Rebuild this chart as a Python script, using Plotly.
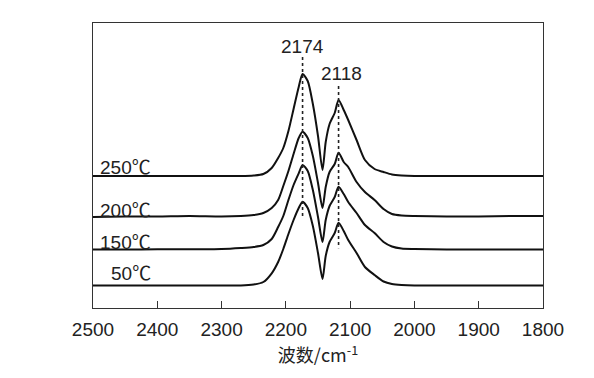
import plotly.graph_objects as go

# Wavenumber grid (cm^-1)
wavenumber = [2500, 2450, 2400, 2350, 2300, 2270, 2250, 2235, 2222, 2212, 2204, 2196,
              2188, 2180, 2174, 2166, 2158, 2150, 2143, 2138, 2132, 2124, 2118, 2110,
              2103, 2090, 2077, 2062, 2048, 2035, 2020, 2000, 1950, 1900, 1850, 1800]

# Stacked absorbance traces (arbitrary units, already offset)
t250 = [110, 110, 110, 110, 110, 110, 110.5, 112, 118, 128, 138, 155,
        177, 199, 212, 205, 182, 150, 116, 144, 162, 173, 186, 176,
        166, 146, 126, 117, 114, 111.5, 110.5, 110, 110, 110, 110, 110]
t200 = [69, 69.5, 69.5, 70, 69.5, 70, 71, 73, 78, 86, 100, 115,
        132, 148, 154.3, 148, 130, 103, 78, 99, 114, 122, 133.3, 124,
        119, 104, 94, 86, 77, 72, 70.5, 70, 69.5, 69.5, 70, 70]
t150 = [36.5, 36.5, 36.7, 36.7, 37, 38, 39, 41, 47, 59, 70, 86,
        101, 112.7, 121, 115, 96, 69, 44, 66, 80, 89, 99.3, 92,
        84, 73, 61, 53, 44, 39.5, 37.5, 37, 36.5, 36.5, 36.5, 36.5]
t50 = [0.5, 0.5, 0.5, 0.5, 0.5, 0.5, 1.5, 4, 12.7, 24, 37, 52,
       66, 78, 84.3, 78, 60, 33, 7, 30, 44, 53, 63.3, 55,
       46, 33, 19, 11, 4.5, 2, 1, 0.5, 0.5, 0.5, 0.5, 0.5]

temps = ["250", "200", "150", "50"]
series = [t250, t200, t150, t50]
label_y = [121, 78, 46, 14.3]

peak_positions = [2174, 2118]
peak_labels = ["2174", "2118"]

x_ticks = [2500, 2400, 2300, 2200, 2100, 2000, 1900, 1800]

fig = go.Figure()

for t, ys in zip(temps, series):
    fig.add_trace(go.Scatter(
        x=wavenumber, y=ys, mode="lines", name=t + "℃",
        line=dict(color="#111111", width=2, shape="spline", smoothing=0.7),
        hoverinfo="x+y+name", showlegend=False))

# dotted peak markers
fig.add_trace(go.Scatter(x=[peak_positions[0]] * 2, y=[229, 67.7], mode="lines",
                         line=dict(color="#222222", width=1.6, dash="dot"),
                         showlegend=False, hoverinfo="skip"))
fig.add_trace(go.Scatter(x=[peak_positions[1]] * 2, y=[200, 37.7], mode="lines",
                         line=dict(color="#222222", width=1.6, dash="dot"),
                         showlegend=False, hoverinfo="skip"))

font_main = "Liberation Sans, Arial, Noto Sans CJK SC, sans-serif"
FS = 19

annotations = [
    dict(x=2174, y=229, text=peak_labels[0], showarrow=False, yanchor="bottom",
         xanchor="center", yshift=-2, font=dict(size=FS, color="#222222", family=font_main)),
    dict(x=2114, y=200, text=peak_labels[1], showarrow=False, yanchor="bottom",
         xanchor="center", yshift=0, font=dict(size=FS, color="#222222", family=font_main)),
]
for t, ly in zip(temps, label_y):
    annotations.append(dict(
        x=2407, y=ly,
        text=t + "<span style='font-family:Noto Sans CJK SC'>℃</span>",
        showarrow=False, xanchor="right", yanchor="middle",
        font=dict(size=FS, color="#222222", family=font_main)))

fig.update_layout(
    width=586, height=370,
    margin=dict(l=85, r=51, t=15, b=70),
    paper_bgcolor="white", plot_bgcolor="white",
    font=dict(family=font_main, color="#222222"),
    annotations=annotations,
    xaxis=dict(range=[2500, 1800], tickvals=x_ticks, ticks="inside", ticklen=7,
               tickcolor="#333333", tickwidth=1, showgrid=False, zeroline=False,
               showline=True, linecolor="#333333", linewidth=1, mirror=True,
               ticklabelstandoff=4,
               tickfont=dict(size=FS, color="#222222", family=font_main),
               title=dict(text="波数/cm<sup>-1</sup>", standoff=6,
                          font=dict(size=18, color="#222222",
                                    family="Noto Sans CJK SC, Liberation Sans, sans-serif"))),
    yaxis=dict(range=[-22, 263], showticklabels=False, ticks="", showgrid=False,
               zeroline=False, showline=True, linecolor="#333333", linewidth=1, mirror=True),
)

fig.write_html("out.html")
